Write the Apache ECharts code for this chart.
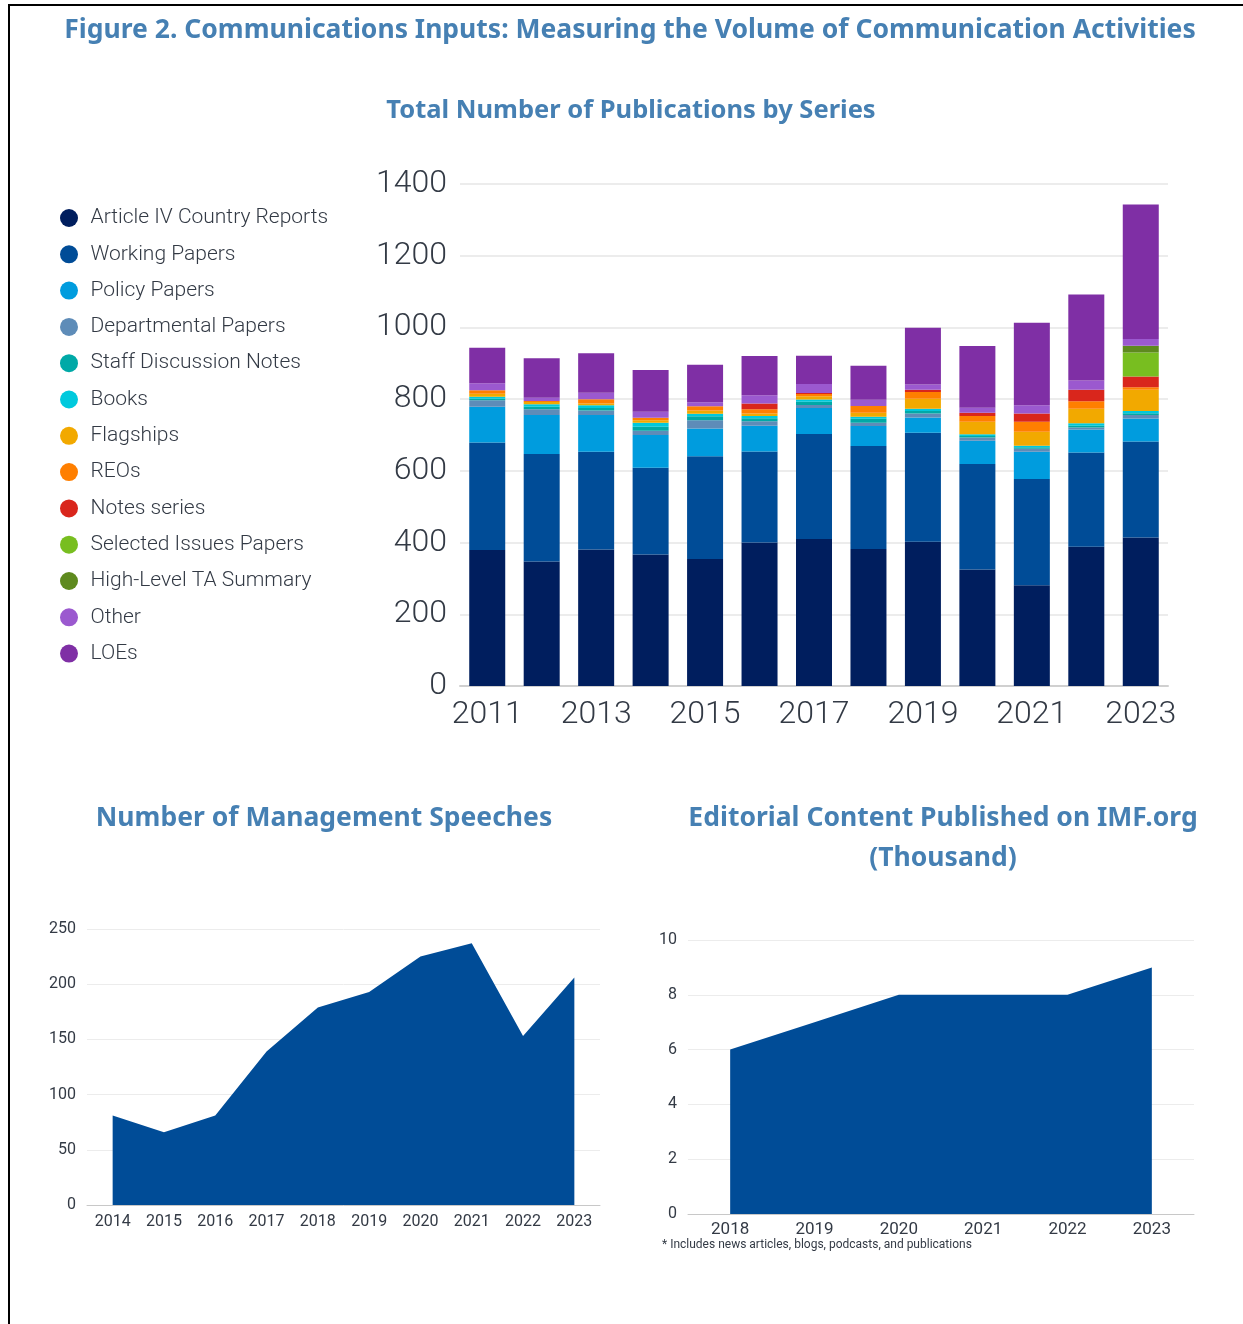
<!DOCTYPE html>
<html>
<head>
<meta charset="utf-8">
<script src="https://cdn.jsdelivr.net/npm/echarts@6/dist/echarts.min.js"></script>
<style>
  html, body { margin: 0; padding: 0; background: #fff; overflow: hidden; }
  #frame { position: absolute; left: 8px; top: 4px; width: 1300px; height: 1400px;
           border-left: 2px solid #000; border-top: 2px solid #000; box-sizing: border-box; }
  #chart { position: absolute; left: 0; top: 0; width: 1243px; height: 1324px; }
</style>
</head>
<body>
<div id="frame"></div>
<div id="chart"></div>
<script>
// publications by series
const pubYears = ["2011", "2012", "2013", "2014", "2015", "2016", "2017", "2018", "2019", "2020", "2021", "2022", "2023"];
const seriesNames = ["Article IV Country Reports", "Working Papers", "Policy Papers", "Departmental Papers",
  "Staff Discussion Notes", "Books", "Flagships", "REOs", "Notes series", "Selected Issues Papers",
  "High-Level TA Summary", "Other", "LOEs"];
const articleIV   = [379, 347, 381, 367, 354, 400, 410, 382, 402, 325, 281, 388, 414];
const workingPap  = [300, 300, 272, 242, 287, 254, 293, 287, 304, 294, 296, 263, 268];
const policyPap   = [100, 109, 103, 91, 77, 72, 72, 56, 43, 65, 76, 64, 64];
const deptPap     = [18, 16, 12, 12, 23, 12, 9, 9, 11, 9, 9, 6, 10];
const sdn         = [4, 7, 7, 11, 11, 9, 9, 11, 7, 4, 4, 5, 5];
const books       = [6, 7, 8, 11, 7, 6, 6, 6, 6, 5, 4, 7, 6];
const flagships   = [8, 6, 5, 7, 9, 7, 9, 11, 28, 35, 39, 40, 59];
const reos        = [10, 3, 12, 7, 12, 12, 6, 19, 19, 16, 28, 21, 7];
const notes       = [0, 0, 0, 0, 0, 16, 3, 0, 6, 9, 23, 32, 30];
const selIssues   = [0, 0, 0, 0, 0, 0, 0, 0, 0, 0, 0, 0, 67];
const hlTA        = [0, 0, 0, 0, 0, 0, 0, 0, 0, 0, 0, 0, 19];
const other       = [19, 9, 18, 17, 11, 23, 25, 17, 15, 14, 23, 26, 19];
const loes        = [99, 110, 110, 116, 105, 109, 79, 95, 158, 172, 230, 240, 375];
const seriesColors = ["#001e5e", "#004c97", "#009cde", "#5e8cb8", "#00a9a7", "#00c9dd",
  "#f2a900", "#ff7f00", "#d9261c", "#78be20", "#5e8a1e", "#9b59cf", "#7f2fa5"];

// management speeches
const speechYears = ["2014", "2015", "2016", "2017", "2018", "2019", "2020", "2021", "2022", "2023"];
const speeches = [81, 66, 81, 139, 179, 193, 225, 237, 153, 206];

// editorial content (thousand)
const editYears = ["2018", "2019", "2020", "2021", "2022", "2023"];
const editorial = [6, 7, 8, 8, 8, 9];

const pubValues = [articleIV, workingPap, policyPap, deptPap, sdn, books, flagships, reos, notes, selIssues, hlTA, other, loes];

const titleColor = "#4680b3";
const textColor = "#333a45";
const gridLine = { lineStyle: { color: "#e6e6e6", width: 1.5 } };

const chart = echarts.init(document.getElementById("chart"));

const barSeries = seriesNames.map((name, i) => ({
  name: name,
  type: "bar",
  stack: "pub",
  xAxisIndex: 0,
  yAxisIndex: 0,
  barWidth: 36,
  data: pubValues[i],
  itemStyle: { color: seriesColors[i] }
}));

chart.setOption({
  animation: false,
  textStyle: { fontFamily: "Roboto, sans-serif" },
  title: [
    { text: "Figure 2. Communications Inputs: Measuring the Volume of Communication Activities",
      left: 625, top: 12, textAlign: "center",
      textStyle: { fontFamily: "Noto Sans", fontWeight: "bold", fontSize: 26.5, color: titleColor } },
    { text: "Total Number of Publications by Series",
      left: 626, top: 93, textAlign: "center",
      textStyle: { fontFamily: "Noto Sans", fontWeight: "bold", fontSize: 25.5, color: titleColor } },
    { text: "Number of Management Speeches",
      left: 319, top: 800, textAlign: "center",
      textStyle: { fontFamily: "Noto Sans", fontWeight: "bold", fontSize: 26.5, color: titleColor } },
    { text: "Editorial Content Published on IMF.org\n(Thousand)",
      left: 938, top: 793, textAlign: "center",
      textStyle: { fontFamily: "Noto Sans", fontWeight: "bold", fontSize: 26.5, lineHeight: 40, color: titleColor } }
  ],
  legend: {
    data: seriesNames,
    orient: "vertical",
    left: 55,
    top: 202,
    icon: "circle",
    itemWidth: 21,
    itemHeight: 18,
    itemGap: 14.3,
    textStyle: { fontSize: 21, lineHeight: 22, color: textColor, fontWeight: 300, padding: [0, 0, 0, 6] }
  },
  grid: [
    { left: 460, right: 75, top: 184, bottom: 638 },
    { left: 87, right: 643, top: 929, bottom: 119 },
    { left: 688, right: 49, top: 940, bottom: 110 }
  ],
  xAxis: [
    { gridIndex: 0, type: "category", data: pubYears,
      axisTick: { show: false }, axisLine: { lineStyle: { color: "#d0d0d0", width: 2 } },
      axisLabel: { interval: 1, fontSize: 32, color: textColor, margin: 13, fontWeight: 300 } },
    { gridIndex: 1, type: "category", data: speechYears, boundaryGap: true,
      axisTick: { show: false }, axisLine: { lineStyle: { color: "#c8c8c8" } },
      axisLabel: { fontSize: 16, color: textColor, margin: 9 } },
    { gridIndex: 2, type: "category", data: editYears, boundaryGap: true,
      axisTick: { show: false }, axisLine: { lineStyle: { color: "#c8c8c8" } },
      axisLabel: { fontSize: 17, color: textColor, margin: 7 } }
  ],
  yAxis: [
    { gridIndex: 0, type: "value", min: 0, max: 1400, interval: 200,
      splitLine: gridLine, axisLine: { show: false }, axisTick: { show: false },
      axisLabel: { fontSize: 32, color: textColor, margin: 13, fontWeight: 300, formatter: v => String(v) } },
    { gridIndex: 1, type: "value", min: 0, max: 250, interval: 50,
      splitLine: { lineStyle: { color: "#ececec" } }, axisLine: { show: false }, axisTick: { show: false },
      axisLabel: { fontSize: 16, color: textColor, margin: 11 } },
    { gridIndex: 2, type: "value", min: 0, max: 10, interval: 2,
      splitLine: { lineStyle: { color: "#ececec" } }, axisLine: { show: false }, axisTick: { show: false },
      axisLabel: { fontSize: 16, color: textColor, margin: 11 } }
  ],
  series: barSeries.concat([
    { name: "Speeches", type: "line", xAxisIndex: 1, yAxisIndex: 1, data: speeches,
      symbol: "none", lineStyle: { width: 0 }, areaStyle: { color: "#004c97", opacity: 1 } },
    { name: "Editorial", type: "line", xAxisIndex: 2, yAxisIndex: 2, data: editorial,
      symbol: "none", lineStyle: { width: 0 }, areaStyle: { color: "#004c97", opacity: 1 } }
  ]),
  graphic: [
    { type: "text", left: 662, top: 1239,
      style: { text: "* Includes news articles, blogs, podcasts, and publications",
               fontSize: 12, fill: textColor, fontFamily: "Roboto" } }
  ]
});
</script>
</body>
</html>
